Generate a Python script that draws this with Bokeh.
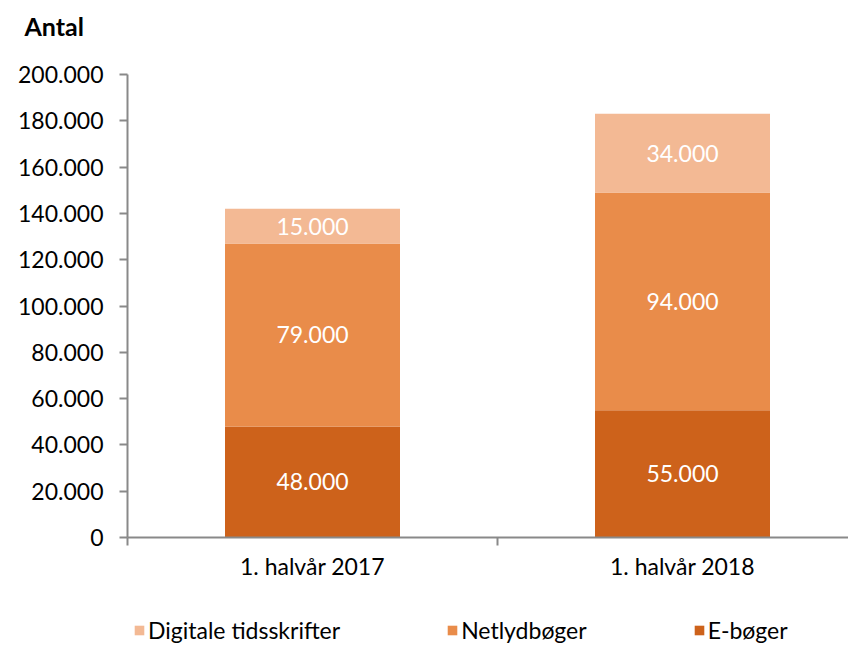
from bokeh.plotting import figure
from bokeh.models import ColumnDataSource, Range1d, FixedTicker, Legend, LegendItem, Title
from bokeh.layouts import column
from bokeh.core.properties import value
from bokeh.embed import file_html
from bokeh.resources import INLINE

# ---- data ----
categories = ["1. halvår 2017", "1. halvår 2018"]
series_names = ["E-bøger", "Netlydbøger", "Digitale tidsskrifter"]
e_boger = [48000, 55000]
netlydboger = [79000, 94000]
digitale_tidsskrifter = [15000, 34000]
y_ticks = [0, 20000, 40000, 60000, 80000, 100000, 120000, 140000, 160000, 180000, 200000]
colors = ["#CD621B", "#E98C4A", "#F3B994"]

FONT = "Lato"
AXIS_COLOR = "#898989"
FS = "23px"


def fmt(v):
    return f"{v:,}".replace(",", ".")


xs = [i + 0.5 for i in range(len(categories))]
data = {"x": xs, series_names[0]: e_boger, series_names[1]: netlydboger,
        series_names[2]: digitale_tidsskrifter}
source = ColumnDataSource(data)

W = 848
LEFT = 127
BAR_W = 175 / 370
p = figure(width=W, height=600, output_backend="svg", toolbar_location=None,
           title=None,
           x_range=Range1d(0, (W - LEFT) / 370), y_range=Range1d(0, 200000),
           min_border_left=LEFT, min_border_right=0, min_border_top=74,
           min_border_bottom=63)
p.outline_line_color = None
p.xgrid.visible = False
p.ygrid.visible = False
p.background_fill_color = "white"
p.border_fill_color = "white"

# title (spacer closest to the frame, then the real title above it)
p.add_layout(Title(text=" ", text_font_size="1px", standoff=29), "above")
p.add_layout(Title(text="Antal", text_font=FONT, text_font_style="bold",
                   text_font_size="25px", text_color="black", align="left",
                   offset=-103, standoff=4), "above")

renderers = p.vbar_stack(series_names, x="x", width=BAR_W, color=colors,
                         line_color=None, source=source)

# value labels
lx, ly, lt = [], [], []
bottoms = [0] * len(categories)
for vals in [e_boger, netlydboger, digitale_tidsskrifter]:
    for i, v in enumerate(vals):
        lx.append(xs[i])
        ly.append(bottoms[i] + v / 2)
        lt.append(fmt(v))
        bottoms[i] += v
p.text(x=lx, y=ly, text=lt, text_color="white", text_font=value(FONT),
       text_font_size=FS, text_align="center", text_baseline="middle")

# y axis
yax = p.yaxis[0]
yax.ticker = FixedTicker(ticks=y_ticks)
yax.major_label_overrides = {t: fmt(t) for t in y_ticks}
yax.axis_line_color = AXIS_COLOR
yax.axis_line_width = 2
yax.major_tick_line_color = AXIS_COLOR
yax.major_tick_line_width = 2
yax.major_tick_out = 8
yax.major_tick_in = 0
yax.minor_tick_line_color = None
yax.major_label_text_font = FONT
yax.major_label_text_font_size = FS
yax.major_label_text_color = "black"
yax.major_label_standoff = 16

# x axis
xax = p.xaxis[0]
xax.ticker = FixedTicker(ticks=xs, minor_ticks=list(range(len(categories) + 1)))
xax.major_label_overrides = {x: c for x, c in zip(xs, categories)}
xax.axis_line_color = AXIS_COLOR
xax.axis_line_width = 2
xax.major_tick_line_color = None
xax.major_tick_out = 8
xax.major_tick_in = 0
xax.minor_tick_line_color = AXIS_COLOR
xax.minor_tick_line_width = 2
xax.minor_tick_out = 8
xax.minor_tick_in = 0
xax.major_label_text_font = FONT
xax.major_label_text_font_size = FS
xax.major_label_text_color = "black"
xax.major_label_standoff = 6
xax.axis_label_standoff = 0

# legend strip (separate small figure under the chart); its bar renderers lie
# entirely below its visible y range, so only the legend shows
lg = figure(width=W, height=45, output_backend="svg", toolbar_location=None,
            x_range=Range1d(0, (W - LEFT) / 370), y_range=Range1d(1e7, 1e7 + 1),
            min_border_left=0, min_border_right=0, min_border_top=0, min_border_bottom=0)
lg.axis.visible = False
lg.xgrid.visible = False
lg.ygrid.visible = False
lg.outline_line_color = None
proxies = lg.vbar_stack(series_names, x="x", width=BAR_W, color=colors,
                        line_color=None, source=source)

legend = Legend(
    items=[LegendItem(label=series_names[i], renderers=[proxies[i]]) for i in (2, 1, 0)],
    orientation="horizontal", location=(6, 1), spacing=106,
    glyph_width=12, glyph_height=12, label_standoff=3,
    label_text_font=FONT, label_text_font_size=FS, label_text_color="black",
    border_line_color=None, background_fill_alpha=0, padding=0, margin=0,
)
lg.add_layout(legend, "center")

layout = column(p, lg, spacing=0)
open("out.html", "w").write(file_html(layout, INLINE))
